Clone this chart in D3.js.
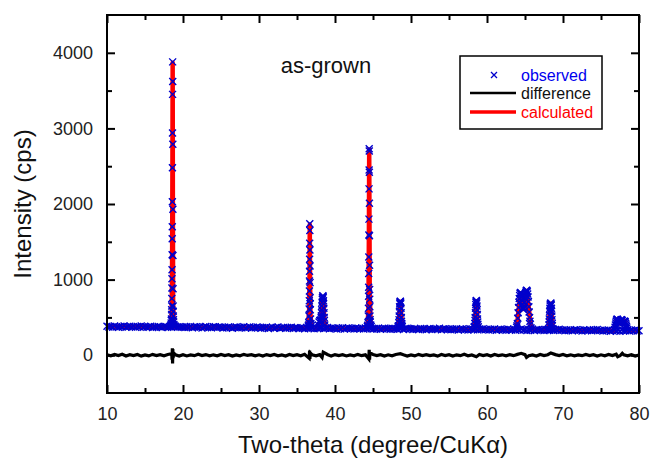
<!DOCTYPE html>
<html>
<head>
<meta charset="utf-8">
<script src="https://cdn.jsdelivr.net/npm/d3@7"></script>
<style>
body { margin: 0; background: #fff; }
text { font-family: "Liberation Sans", Arial, sans-serif; }
</style>
</head>
<body>
<svg id="chart"></svg>
<script>
// observed background, 0.25 degree steps starting at 10
const bgStart = 10, bgStep = 0.25;
const obsBackground = [
	383,372,380,369,385,375,371,381,374,387,370,379,383,372,378,368,381,375,386,371,
	378,369,376,382,367,377,371,380,373,365,379,381,370,376,368,378,384,372,377,369,
	374,365,376,368,379,363,372,375,366,377,361,373,380,367,371,364,375,378,365,373,
	370,360,371,363,374,366,357,369,373,362,371,364,375,359,368,372,361,370,363,373,
	366,356,367,359,370,354,364,369,358,365,372,355,363,368,357,366,359,370,353,364,
	362,353,364,356,351,366,357,355,361,350,365,354,360,363,352,358,367,349,361,355,
	358,348,359,351,362,346,356,360,349,357,345,361,352,350,358,347,359,353,363,349,
	345,354,347,358,343,352,356,346,353,342,357,348,354,344,351,359,341,352,355,346,
	350,341,352,344,339,354,343,349,337,348,353,340,351,344,342,355,338,347,350,341,
	346,336,347,339,350,334,344,348,337,345,333,349,340,338,346,335,348,341,351,337,
	342,332,343,335,346,330,340,344,333,341,329,345,336,334,342,331,344,337,347,333,
	338,328,339,331,342,326,336,340,329,337,325,341,332,330,338,327,340,333,343,329,
	334,324,335,327,338,322,332,336,325,333,321,337,328,326,334,323,336,329,339,325,
	330,320,331,323,334,318,328,332,321,329,317,333,324,322,330,319,332,325,335,321,
	322
];

// observed points on the reflections [2theta, cps]
const obsPeaks = [
	[18.36,385],[18.40,400],[18.44,425],[18.47,460],[18.48,480],[18.50,540],[18.51,600],[18.52,650],
	[18.53,750],[18.54,890],[18.55,1010],[18.56,1130],[18.57,1330],[18.58,1540],[18.59,1700],
	[18.60,2030],[18.61,2480],[18.62,2940],[18.63,3450],[18.64,3880],[18.65,3620],[18.66,2790],
	[18.67,1930],[18.68,1320],[18.69,880],[18.70,650],[18.71,580],[18.72,520],[18.74,470],
	[18.77,440],[18.80,405],[18.85,385],
	[36.48,385],[36.52,400],[36.55,430],[36.58,520],[36.60,610],[36.62,720],[36.63,850],[36.64,980],
	[36.65,1110],[36.66,1270],[36.67,1480],[36.68,1740],[36.69,1650],[36.70,1390],[36.71,1180],
	[36.72,960],[36.73,760],[36.74,680],[36.75,600],[36.78,480],[36.82,420],[36.88,390],
	[37.80,400],[37.90,440],[38.00,460],[38.05,455],[38.10,450],[38.15,470],[38.18,500],[38.20,520],
	[38.23,560],[38.25,600],[38.28,650],[38.30,700],[38.33,740],[38.35,760],[38.40,785],[38.43,775],
	[38.45,760],[38.48,720],[38.50,680],[38.53,620],[38.55,560],[38.58,500],[38.60,460],[38.65,400],
	[44.26,380],[44.30,395],[44.35,430],[44.38,520],[44.40,620],[44.42,780],[44.43,900],[44.44,1080],
	[44.45,1300],[44.46,1590],[44.47,1800],[44.48,2200],[44.49,2450],[44.50,2730],[44.51,2700],
	[44.52,2420],[44.53,2010],[44.54,1580],[44.55,1190],[44.56,870],[44.57,740],[44.58,640],
	[44.60,520],[44.62,470],[44.64,440],[44.70,400],[44.76,380],
	[48.30,375],[48.35,390],[48.40,430],[48.43,470],[48.45,520],[48.48,580],[48.50,640],[48.53,680],
	[48.55,700],[48.58,712],[48.60,715],[48.63,700],[48.65,680],[48.68,620],[48.70,560],[48.73,500],
	[48.75,450],[48.78,420],[48.80,400],[48.85,380],
	[58.30,370],[58.35,380],[58.40,420],[58.43,460],[58.45,500],[58.48,560],[58.50,620],[58.53,670],
	[58.55,700],[58.58,718],[58.60,725],[58.63,712],[58.65,690],[58.68,650],[58.70,600],[58.73,540],
	[58.75,480],[58.78,440],[58.80,410],[58.85,375],
	[63.90,370],[63.95,390],[64.00,420],[64.05,490],[64.10,560],[64.15,630],[64.20,700],[64.25,750],
	[64.30,790],[64.35,815],[64.40,830],[64.45,825],[64.50,810],[64.55,770],[64.60,720],[64.65,670],
	[64.70,630],[64.75,610],[64.80,605],[64.85,620],[64.90,650],[64.95,700],[65.00,750],[65.05,790],
	[65.10,830],[65.15,850],[65.20,860],[65.25,855],[65.30,840],[65.35,810],[65.40,770],[65.45,710],
	[65.50,640],[65.55,570],[65.60,500],[65.65,450],[65.70,410],[65.80,360],
	[68.05,340],[68.10,350],[68.15,400],[68.18,440],[68.20,480],[68.23,530],[68.25,580],[68.28,620],
	[68.30,650],[68.33,670],[68.35,680],[68.40,690],[68.43,675],[68.45,660],[68.48,620],[68.50,580],
	[68.53,520],[68.55,470],[68.58,420],[68.60,390],[68.65,350],
	[76.80,340],[76.85,370],[76.90,400],[76.95,425],[77.00,450],[77.05,465],[77.10,475],[77.15,475],
	[77.20,470],[77.25,455],[77.30,440],[77.40,420],[77.50,430],[77.55,445],[77.60,460],[77.65,468],
	[77.70,470],[77.75,462],[77.80,455],[77.90,430],[78.00,440],[78.05,448],[78.10,450],[78.15,447],
	[78.20,440],[78.25,420],[78.30,400],[78.35,380],[78.40,360],[78.50,335]
];

// calculated profile [2theta, cps]
const calcPoints = [
	[10,378],[12,376],[14,374],[16,372],[18,370],[18.45,375],[18.52,600],[18.57,1300],[18.61,2500],
	[18.64,3870],[18.67,1950],[18.70,700],[18.78,400],[19,369],[22,368],[26,366],[30,362],[34,359],
	[36.45,358],[36.60,600],[36.65,1100],[36.68,1730],[36.71,1150],[36.76,560],[36.90,375],[37.60,360],
	[37.90,420],[38.10,430],[38.20,490],[38.30,690],[38.40,770],[38.50,670],[38.60,450],[38.80,360],
	[40,354],[44.25,350],[44.40,600],[44.46,1600],[44.50,2720],[44.53,2000],[44.57,800],[44.70,400],
	[44.90,350],[48.30,347],[48.45,500],[48.55,690],[48.60,705],[48.70,560],[48.85,360],[52,345],
	[56,342],[58.30,340],[58.45,490],[58.60,715],[58.75,480],[58.90,345],[62,336],[63.90,335],
	[64.10,550],[64.40,820],[64.70,610],[64.90,640],[65.20,850],[65.50,630],[65.80,345],[67,332],
	[68.10,335],[68.25,570],[68.40,680],[68.55,460],[68.70,335],[72,328],[76.70,324],[77.00,440],
	[77.10,470],[77.40,420],[77.70,465],[78.10,445],[78.40,360],[78.60,322],[80,320]
];

// difference, 0.5 degree steps starting at 10
const diffStart = 10, diffStep = 0.5;
const diffNoise = [
	5,-8,10,-4,12,-10,6,-6,9,-12,
	4,-9,11,-5,8,-7,10,-3,6,-11,
	7,-10,3,-6,12,-4,8,-9,5,-7,
	10,-5,6,-12,4,-8,11,-3,7,-9,
	5,-11,8,-4,10,-7,3,-10,9,-5,
	6,-8,12,-6,4,-9,7,-4,10,-12,
	8,-5,6,-10,3,-7,11,-6,5,-9,
	9,-4,7,-11,5,-8,10,-3,6,-10,
	4,-9,11,-5,8,-6,3,-12,9,-4,
	7,-10,5,-6,12,-8,4,-7,10,-5,
	6,-11,9,-4,5,-9,8,-6,11,-3,
	7,-8,4,-10,9,-5,6,-12,8,-4,
	10,-7,5,-9,3,-6,11,-4,7,-10,
	5,-8,9,-5,12,-7,4,-9,6,-11,
	3
];
const diffSpikes = [
	[18.52,20],[18.56,-60],[18.60,90],[18.63,-110],[18.66,80],[18.70,-40],[18.76,30],
	[36.60,-40],[36.66,60],[36.70,-50],[36.75,30],[38.30,-30],[38.45,40],
	[44.45,-50],[44.50,70],[44.55,-60],[44.60,30],[48.60,20],[58.60,-20],
	[64.50,25],[65.20,-30],[68.40,30],[77.20,-20],[77.80,25]
];

const xTicks = [10, 20, 30, 40, 50, 60, 70, 80];
const xMinor = [15, 25, 35, 45, 55, 65, 75];
const yTicks = [0, 1000, 2000, 3000, 4000];
const yMinor = [500, 1500, 2500, 3500];
const legendItems = ["observed", "difference", "calculated"];

const W = 651, H = 459;
const margin = { top: 15, right: 12, bottom: 66, left: 107 };
const width = W - margin.left - margin.right;
const height = H - margin.top - margin.bottom;

const svgRoot = d3.select("#chart").attr("width", W).attr("height", H);
const svg = svgRoot.append("g")
	.attr("transform", "translate(" + margin.left + "," + margin.top + ")");

const x = d3.scaleLinear().domain([10, 80]).range([0, width]);
const y = d3.scaleLinear().domain([-500, 4500]).range([height, 0]);

const observed = obsBackground.map((v, i) => [bgStart + i * bgStep, v]).concat(obsPeaks);
const difference = diffNoise.map((v, i) => [diffStart + i * diffStep, v])
	.filter(d => !diffSpikes.some(s => Math.abs(s[0] - d[0]) < 0.2))
	.concat(diffSpikes)
	.sort((a, b) => a[0] - b[0]);

const line = d3.line().x(d => x(d[0])).y(d => y(d[1]));

// difference curve
svg.append("path")
	.datum(difference)
	.attr("fill", "none")
	.attr("stroke", "#000")
	.attr("stroke-width", 3.2)
	.attr("d", line);

// calculated curve
svg.append("path")
	.datum(calcPoints)
	.attr("fill", "none")
	.attr("stroke", "#ff0000")
	.attr("stroke-width", 4.5)
	.attr("stroke-linejoin", "round")
	.attr("d", line);

// observed crosses
const cross = "M-3.5,-3.5L3.5,3.5M-3.5,3.5L3.5,-3.5";
svg.append("g")
	.selectAll("path")
	.data(observed)
	.join("path")
	.attr("transform", d => "translate(" + x(d[0]) + "," + y(d[1]) + ")")
	.attr("d", cross)
	.attr("stroke", "#0000cc")
	.attr("stroke-width", 1.4)
	.attr("fill", "none");

// axes with inward ticks: [transform, axis maker, labelled]
const axes = [
	["translate(0," + height + ")", () => d3.axisBottom(x), xTicks, xMinor, true],
	["translate(0,0)", () => d3.axisTop(x), xTicks, xMinor, false],
	["translate(0,0)", () => d3.axisLeft(y), yTicks, yMinor, true],
	["translate(" + width + ",0)", () => d3.axisRight(y), yTicks, yMinor, false]
];
axes.forEach(([tr, makeAxis, major, minor, labels]) => {
	const gMajor = svg.append("g").attr("transform", tr)
		.call(makeAxis().tickValues(major).tickSize(-8).tickPadding(14)
			.tickFormat(labels ? d3.format("d") : ""));
	const gMinor = svg.append("g").attr("transform", tr)
		.call(makeAxis().tickValues(minor).tickSize(-5).tickFormat(""));
	[gMajor, gMinor].forEach(g => {
		g.select(".domain").remove();
		g.selectAll(".tick line").attr("stroke", "#000").attr("stroke-width", 2);
		g.selectAll(".tick text").attr("fill", "#222").style("font-size", "18px");
	});
});

// frame
svg.append("rect")
	.attr("width", width)
	.attr("height", height)
	.attr("fill", "none")
	.attr("stroke", "#000")
	.attr("stroke-width", 2);

// axis titles
svg.append("text")
	.attr("x", width / 2)
	.attr("y", height + 60)
	.attr("text-anchor", "middle")
	.style("font-size", "24px")
	.attr("fill", "#111")
	.text("Two-theta (degree/CuKα)");

svg.append("text")
	.attr("transform", "rotate(-90)")
	.attr("x", -height / 2)
	.attr("y", -margin.left + 31)
	.attr("text-anchor", "middle")
	.style("font-size", "24px")
	.attr("fill", "#111")
	.text("Intensity (cps)");

// sample label
svg.append("text")
	.attr("x", 326 - margin.left)
	.attr("y", 58)
	.attr("text-anchor", "middle")
	.style("font-size", "22px")
	.attr("fill", "#111")
	.text("as-grown");

// legend
const lg = svg.append("g").attr("transform", "translate(" + (460 - margin.left) + "," + (56 - margin.top) + ")");
lg.append("rect")
	.attr("width", 142)
	.attr("height", 73)
	.attr("fill", "#fff")
	.attr("stroke", "#000")
	.attr("stroke-width", 1.5);
const rowY = [19, 37, 56];
lg.append("path")
	.attr("transform", "translate(34," + rowY[0] + ")")
	.attr("d", "M-3,-3L3,3M-3,3L3,-3")
	.attr("stroke", "#0000cc")
	.attr("stroke-width", 1.3);
lg.append("line")
	.attr("x1", 10).attr("x2", 56).attr("y1", rowY[1]).attr("y2", rowY[1])
	.attr("stroke", "#000").attr("stroke-width", 2.5);
lg.append("line")
	.attr("x1", 10).attr("x2", 56).attr("y1", rowY[2]).attr("y2", rowY[2])
	.attr("stroke", "#ff0000").attr("stroke-width", 3.5);
const legendColors = ["#0000ee", "#111", "#ff0000"];
legendItems.forEach((t, i) => {
	lg.append("text")
		.attr("x", 61)
		.attr("y", rowY[i])
		.attr("dy", "0.35em")
		.style("font-size", "16px")
		.attr("fill", legendColors[i])
		.text(t);
});
</script>
</body>
</html>
